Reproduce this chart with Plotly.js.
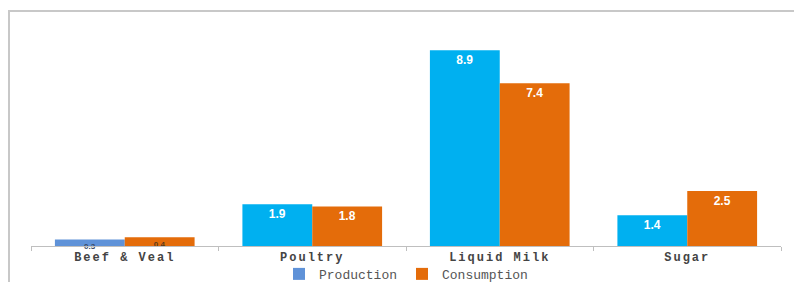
<!DOCTYPE html>
<html>
<head>
<meta charset="utf-8">
<script src="https://cdn.plot.ly/plotly-3.0.1.min.js"></script>
<style>
  html, body { margin: 0; padding: 0; background: #ffffff; }
  #wrap { position: relative; width: 794px; height: 282px; }
  #frame { position: absolute; left: 8px; top: 10px; width: 786px; height: 272px;
           border-left: 2px solid #c8c8c8; border-top: 2px solid #c8c8c8; box-sizing: border-box; }
  #chart { position: absolute; left: 0; top: 0; width: 794px; height: 282px; }
  #chart .xtick text { letter-spacing: 2px; }
</style>
</head>
<body>
<div id="wrap">
  <div id="frame"></div>
  <div id="chart"></div>
</div>
<script>
const categories = ["Beef & Veal", "Poultry", "Liquid Milk", "Sugar"];
const production = [0.3, 1.9, 8.9, 1.4];
const consumption = [0.4, 1.8, 7.4, 2.5];
const productionLabels = ["0.3", "1.9", "8.9", "1.4"];
const consumptionLabels = ["0.4", "1.8", "7.4", "2.5"];

const labelFont = { family: "Liberation Sans, Arial, sans-serif", size: [8, 12, 12, 12], color: ["#3a4a66", "#ffffff", "#ffffff", "#ffffff"], weight: "bold" };
const labelFont2 = { family: "Liberation Sans, Arial, sans-serif", size: [8, 12, 12, 12], color: ["#5a3a1a", "#ffffff", "#ffffff", "#ffffff"], weight: "bold" };

const traces = [
  {
    type: "bar", name: "Production", x: categories, y: production,
    text: productionLabels, textposition: "inside", insidetextanchor: "end",
    constraintext: "none", textfont: labelFont, cliponaxis: false,
    marker: { color: ["#5f92d8", "#00b0f0", "#00b0f0", "#00b0f0"] },
    hoverinfo: "none"
  },
  {
    type: "bar", name: "Consumption", x: categories, y: consumption,
    text: consumptionLabels, textposition: "inside", insidetextanchor: "end",
    constraintext: "none", textfont: labelFont2, cliponaxis: false,
    marker: { color: "#e46c0a" },
    hoverinfo: "none"
  }
];

const layout = {
  width: 794, height: 282,
  margin: { l: 31, r: 13, t: 15, b: 36, autoexpand: false },
  paper_bgcolor: "rgba(0,0,0,0)", plot_bgcolor: "rgba(0,0,0,0)",
  barmode: "group", bargap: 0.255, bargroupgap: 0,
  showlegend: true,
  legend: { orientation: "h", x: 0.5, xanchor: "center", y: -0.056, yanchor: "top",
            font: { family: "Liberation Mono, monospace", size: 13, color: "#555555" },
            itemwidth: 30, tracegroupgap: 0 },
  xaxis: {
    type: "category", showline: true, linecolor: "#bfbfbf", linewidth: 1,
    ticks: "outside", tickson: "boundaries", ticklen: 4, tickcolor: "#bfbfbf",
    tickfont: { family: "Liberation Mono, monospace", size: 12, color: "#444444", weight: "bold" },
    showgrid: false, zeroline: false, automargin: false
  },
  yaxis: { range: [0, 10.5], visible: false, showgrid: false, zeroline: false },
  font: { family: "Liberation Sans, Arial, sans-serif" }
};

Plotly.newPlot("chart", traces, layout, { displayModeBar: false, staticPlot: true });
</script>
</body>
</html>
